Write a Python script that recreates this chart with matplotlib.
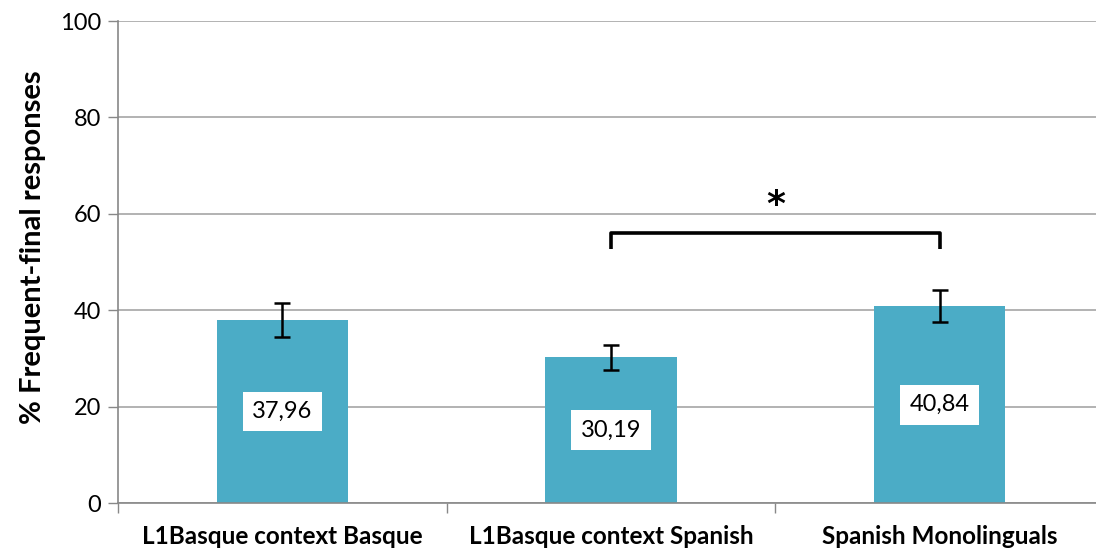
import matplotlib
matplotlib.use("Agg")
import matplotlib.pyplot as plt
import numpy as np

plt.rcParams['font.family'] = ['Lato', 'DejaVu Sans']

categories = ["L1Basque context Basque", "L1Basque context Spanish", "Spanish Monolinguals"]
values = [37.96, 30.19, 40.84]
errors = [3.6, 2.55, 3.3]
value_labels = ["37,96", "30,19", "40,84"]
y_ticks = [0, 20, 40, 60, 80, 100]

bar_color = "#4BACC6"
grid_color = "#A6A6A6"

fig = plt.figure(figsize=(10.96, 5.55), dpi=100)
ax = fig.add_axes([118 / 1096, 52 / 555, 986 / 1096, 482 / 555])

x = np.arange(len(categories))
ax.bar(x, values, width=0.4, color=bar_color, zorder=2)
ax.errorbar(x, values, yerr=errors, fmt='none', ecolor='black',
            elinewidth=1.8, capsize=6, capthick=1.8, zorder=3)

for xi, v, lab in zip(x, values, value_labels):
    ax.text(xi, v / 2, lab, ha='center', va='center', fontsize=17,
            zorder=4,
            bbox=dict(boxstyle='square,pad=0.4', facecolor='white', edgecolor='none'))

# significance bracket between the second and third groups
b_y, b_drop = 56.0, 3.2
ax.plot([1, 1, 2, 2], [b_y - b_drop, b_y, b_y, b_y - b_drop], color='black',
        lw=2.6, solid_joinstyle='round', solid_capstyle='butt', zorder=4)
ax.text(1.5, 61.8, "*", ha='center', va='center', fontsize=26, fontweight='bold',
        family='DejaVu Sans')

ax.set_xlim(-0.5, 2.5)
ax.set_ylim(0, 100)
ax.set_yticks(y_ticks)
ax.yaxis.grid(True, color=grid_color, lw=1.2, zorder=0)
ax.set_axisbelow(True)

ax.set_xticks([-0.5, 0.5, 1.5, 2.5])
ax.set_xticklabels([])
ax.set_xticks(x, minor=True)
ax.set_xticklabels(categories, minor=True, fontsize=17.5, fontweight='bold')
ax.tick_params(axis='x', which='minor', length=0, pad=16)
ax.tick_params(axis='x', which='major', length=7, color='#888888', width=1)
ax.tick_params(axis='y', length=7, color='#888888', width=1, labelsize=17, pad=5)

for side in ['top', 'right']:
    ax.spines[side].set_visible(False)
for side in ['left', 'bottom']:
    ax.spines[side].set_color('#888888')
    ax.spines[side].set_linewidth(1.2)

ax.set_ylabel("% Frequent-final responses", fontsize=21, fontweight='bold')
ax.yaxis.set_label_coords(-0.073, 0.53)

fig.savefig("out.png", dpi=100)
